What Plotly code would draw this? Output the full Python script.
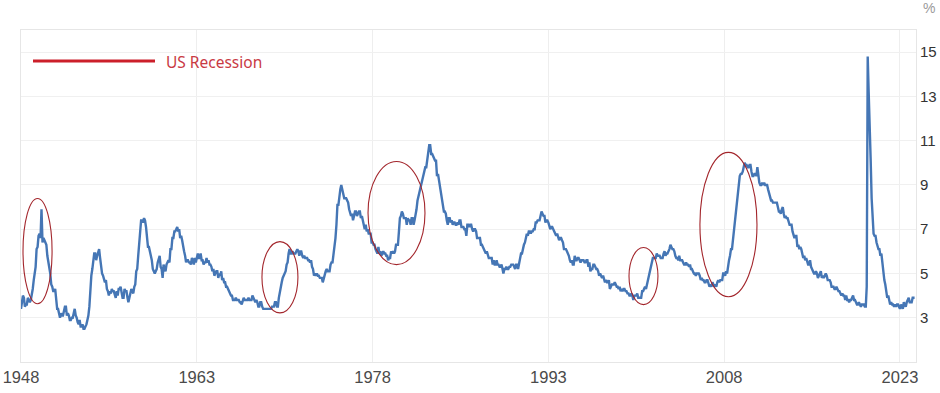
import pandas as pd
import plotly.graph_objects as go
from datetime import datetime, timedelta

# Monthly US unemployment rate (%), Jan 1948 .. Apr 2024
start_month = "1948-01-01"
unemployment_rate = [
    3.4, 3.8, 4.0, 3.9, 3.5, 3.6, 3.6, 3.9, 3.8, 3.7, 3.8, 4.0,   # 1948
    4.3, 4.7, 5.0, 5.3, 6.1, 6.2, 6.7, 6.8, 6.6, 7.9, 6.4, 6.6,   # 1949
    6.5, 6.4, 6.3, 5.8, 5.5, 5.4, 5.0, 4.5, 4.4, 4.2, 4.2, 4.3,   # 1950
    3.7, 3.4, 3.4, 3.1, 3.0, 3.2, 3.1, 3.1, 3.3, 3.5, 3.5, 3.1,   # 1951
    3.2, 3.1, 2.9, 2.9, 3.0, 3.0, 3.2, 3.4, 3.1, 3.0, 2.8, 2.7,   # 1952
    2.9, 2.6, 2.6, 2.7, 2.5, 2.5, 2.6, 2.7, 2.9, 3.1, 3.5, 4.5,   # 1953
    4.9, 5.2, 5.7, 5.9, 5.9, 5.6, 5.8, 6.0, 6.1, 5.7, 5.3, 5.0,   # 1954
    4.9, 4.7, 4.6, 4.7, 4.3, 4.2, 4.0, 4.2, 4.1, 4.3, 4.2, 4.2,   # 1955
    4.0, 3.9, 4.2, 4.0, 4.3, 4.3, 4.4, 4.1, 3.9, 3.9, 4.3, 4.2,   # 1956
    4.2, 3.9, 3.7, 3.9, 4.1, 4.3, 4.2, 4.1, 4.4, 4.5, 5.1, 5.2,   # 1957
    5.8, 6.4, 6.7, 7.4, 7.4, 7.3, 7.5, 7.4, 7.1, 6.7, 6.2, 6.2,   # 1958
    6.0, 5.9, 5.6, 5.2, 5.1, 5.0, 5.1, 5.2, 5.5, 5.7, 5.8, 5.3,   # 1959
    5.2, 4.8, 5.4, 5.2, 5.1, 5.4, 5.5, 5.6, 5.5, 6.1, 6.1, 6.6,   # 1960
    6.6, 6.9, 6.9, 7.0, 7.1, 6.9, 7.0, 6.6, 6.7, 6.5, 6.1, 6.0,   # 1961
    5.8, 5.5, 5.6, 5.6, 5.5, 5.5, 5.4, 5.7, 5.6, 5.4, 5.7, 5.5,   # 1962
    5.7, 5.9, 5.7, 5.7, 5.9, 5.6, 5.6, 5.4, 5.5, 5.5, 5.7, 5.5,   # 1963
    5.6, 5.4, 5.4, 5.3, 5.1, 5.2, 4.9, 5.0, 5.1, 5.1, 4.8, 5.0,   # 1964
    4.9, 5.1, 4.7, 4.8, 4.6, 4.6, 4.4, 4.4, 4.3, 4.2, 4.1, 4.0,   # 1965
    4.0, 3.8, 3.8, 3.8, 3.9, 3.8, 3.8, 3.8, 3.7, 3.7, 3.6, 3.8,   # 1966
    3.9, 3.8, 3.8, 3.8, 3.8, 3.9, 3.8, 3.8, 3.8, 4.0, 3.9, 3.8,   # 1967
    3.7, 3.8, 3.7, 3.5, 3.5, 3.7, 3.7, 3.5, 3.4, 3.4, 3.4, 3.4,   # 1968
    3.4, 3.4, 3.4, 3.4, 3.4, 3.5, 3.5, 3.5, 3.7, 3.7, 3.5, 3.5,   # 1969
    3.9, 4.2, 4.4, 4.6, 4.8, 4.9, 5.0, 5.1, 5.4, 5.5, 5.9, 6.1,   # 1970
    5.9, 5.9, 6.0, 5.9, 5.9, 5.9, 6.0, 6.1, 6.0, 5.8, 6.0, 6.0,   # 1971
    5.8, 5.7, 5.8, 5.7, 5.7, 5.7, 5.6, 5.6, 5.5, 5.6, 5.3, 5.2,   # 1972
    4.9, 5.0, 4.9, 5.0, 4.9, 4.9, 4.8, 4.8, 4.8, 4.6, 4.8, 4.9,   # 1973
    5.1, 5.2, 5.1, 5.1, 5.1, 5.4, 5.5, 5.5, 5.9, 6.0, 6.6, 7.2,   # 1974
    8.1, 8.1, 8.6, 8.8, 9.0, 8.8, 8.6, 8.4, 8.4, 8.4, 8.3, 8.2,   # 1975
    7.9, 7.7, 7.6, 7.7, 7.4, 7.6, 7.8, 7.8, 7.6, 7.7, 7.8, 7.8,   # 1976
    7.5, 7.6, 7.4, 7.2, 7.0, 7.2, 6.9, 7.0, 6.8, 6.8, 6.8, 6.4,   # 1977
    6.4, 6.3, 6.3, 6.1, 6.0, 5.9, 6.2, 5.9, 6.0, 5.8, 5.9, 6.0,   # 1978
    5.9, 5.9, 5.8, 5.8, 5.6, 5.7, 5.7, 6.0, 5.9, 6.0, 5.9, 6.0,   # 1979
    6.3, 6.3, 6.3, 6.9, 7.5, 7.6, 7.8, 7.7, 7.5, 7.5, 7.5, 7.2,   # 1980
    7.5, 7.4, 7.4, 7.2, 7.5, 7.5, 7.2, 7.4, 7.6, 7.9, 8.3, 8.5,   # 1981
    8.6, 8.9, 9.0, 9.3, 9.4, 9.6, 9.8, 9.8, 10.1, 10.4, 10.8, 10.8,  # 1982
    10.4, 10.4, 10.3, 10.2, 10.1, 10.1, 9.4, 9.5, 9.2, 8.8, 8.5, 8.3,  # 1983
    8.0, 7.8, 7.8, 7.7, 7.4, 7.2, 7.5, 7.5, 7.3, 7.4, 7.2, 7.3,   # 1984
    7.3, 7.2, 7.2, 7.3, 7.2, 7.4, 7.4, 7.1, 7.1, 7.1, 7.0, 7.0,   # 1985
    6.7, 7.2, 7.2, 7.1, 7.2, 7.2, 7.0, 6.9, 7.0, 7.0, 6.9, 6.6,   # 1986
    6.6, 6.6, 6.6, 6.3, 6.3, 6.2, 6.1, 6.0, 5.9, 6.0, 5.8, 5.7,   # 1987
    5.7, 5.7, 5.7, 5.4, 5.6, 5.4, 5.4, 5.6, 5.4, 5.4, 5.3, 5.3,   # 1988
    5.4, 5.2, 5.0, 5.2, 5.2, 5.3, 5.2, 5.2, 5.3, 5.3, 5.4, 5.4,   # 1989
    5.4, 5.3, 5.2, 5.4, 5.4, 5.2, 5.5, 5.7, 5.9, 5.9, 6.2, 6.3,   # 1990
    6.4, 6.6, 6.8, 6.7, 6.9, 6.9, 6.8, 6.9, 6.9, 7.0, 7.0, 7.3,   # 1991
    7.3, 7.4, 7.4, 7.4, 7.6, 7.8, 7.7, 7.6, 7.6, 7.3, 7.4, 7.4,   # 1992
    7.3, 7.1, 7.0, 7.1, 7.1, 7.0, 6.9, 6.8, 6.7, 6.8, 6.6, 6.5,   # 1993
    6.6, 6.6, 6.5, 6.4, 6.1, 6.1, 6.1, 6.0, 5.9, 5.8, 5.6, 5.5,   # 1994
    5.6, 5.4, 5.4, 5.8, 5.6, 5.6, 5.7, 5.7, 5.6, 5.5, 5.6, 5.6,   # 1995
    5.6, 5.5, 5.5, 5.6, 5.6, 5.3, 5.5, 5.1, 5.2, 5.2, 5.4, 5.4,   # 1996
    5.3, 5.2, 5.2, 5.1, 4.9, 5.0, 4.9, 4.8, 4.9, 4.7, 4.6, 4.7,   # 1997
    4.6, 4.6, 4.7, 4.3, 4.4, 4.5, 4.5, 4.5, 4.6, 4.5, 4.4, 4.4,   # 1998
    4.3, 4.4, 4.2, 4.3, 4.2, 4.3, 4.3, 4.2, 4.2, 4.1, 4.1, 4.0,   # 1999
    4.0, 4.1, 4.0, 3.8, 4.0, 4.0, 4.0, 4.1, 3.9, 3.9, 3.9, 3.9,   # 2000
    4.2, 4.2, 4.3, 4.4, 4.3, 4.5, 4.6, 4.9, 5.0, 5.3, 5.5, 5.7,   # 2001
    5.7, 5.7, 5.7, 5.9, 5.8, 5.8, 5.8, 5.7, 5.7, 5.7, 5.9, 6.0,   # 2002
    5.8, 5.9, 5.9, 6.0, 6.1, 6.3, 6.2, 6.1, 6.1, 6.0, 5.8, 5.7,   # 2003
    5.7, 5.6, 5.8, 5.6, 5.6, 5.6, 5.5, 5.4, 5.4, 5.5, 5.4, 5.4,   # 2004
    5.3, 5.4, 5.2, 5.2, 5.1, 5.0, 5.0, 4.9, 5.0, 5.0, 5.0, 4.9,   # 2005
    4.7, 4.8, 4.7, 4.7, 4.6, 4.6, 4.7, 4.7, 4.5, 4.4, 4.5, 4.4,   # 2006
    4.6, 4.5, 4.4, 4.5, 4.4, 4.6, 4.7, 4.6, 4.7, 4.7, 4.7, 5.0,   # 2007
    5.0, 4.9, 5.1, 5.0, 5.4, 5.6, 5.8, 6.1, 6.1, 6.5, 6.8, 7.3,   # 2008
    7.8, 8.3, 8.7, 9.0, 9.4, 9.5, 9.5, 9.6, 9.8, 10.0, 9.9, 9.9,  # 2009
    9.8, 9.8, 9.9, 9.9, 9.6, 9.4, 9.4, 9.5, 9.5, 9.4, 9.8, 9.3,   # 2010
    9.1, 9.0, 9.0, 9.1, 9.0, 9.1, 9.0, 9.0, 9.0, 8.8, 8.6, 8.5,   # 2011
    8.3, 8.3, 8.2, 8.2, 8.2, 8.2, 8.2, 8.0, 7.8, 7.8, 7.7, 7.9,   # 2012
    8.0, 7.7, 7.5, 7.6, 7.5, 7.5, 7.3, 7.2, 7.2, 7.2, 6.9, 6.7,   # 2013
    6.6, 6.7, 6.7, 6.2, 6.3, 6.1, 6.2, 6.1, 5.9, 5.7, 5.8, 5.6,   # 2014
    5.7, 5.5, 5.4, 5.4, 5.6, 5.3, 5.2, 5.1, 5.0, 5.0, 5.1, 5.0,   # 2015
    4.8, 4.9, 5.0, 5.1, 4.8, 4.9, 4.8, 4.9, 5.0, 4.9, 4.7, 4.7,   # 2016
    4.7, 4.6, 4.4, 4.4, 4.4, 4.3, 4.3, 4.4, 4.3, 4.2, 4.2, 4.1,   # 2017
    4.0, 4.1, 4.0, 4.0, 3.8, 4.0, 3.8, 3.8, 3.7, 3.8, 3.8, 3.9,   # 2018
    4.0, 3.8, 3.8, 3.7, 3.6, 3.6, 3.7, 3.6, 3.5, 3.6, 3.6, 3.6,   # 2019
    3.5, 3.5, 4.4, 14.8, 13.2, 11.0, 10.2, 8.4, 7.8, 6.8, 6.7, 6.7,  # 2020
    6.4, 6.2, 6.1, 6.1, 5.8, 5.9, 5.4, 5.1, 4.7, 4.5, 4.2, 3.9,   # 2021
    4.0, 3.8, 3.6, 3.7, 3.6, 3.6, 3.5, 3.6, 3.5, 3.6, 3.6, 3.5,   # 2022
    3.4, 3.6, 3.5, 3.4, 3.7, 3.6, 3.5, 3.7, 3.8, 3.9, 3.7, 3.7,   # 2023
    3.7, 3.9, 3.9, 3.9,                                           # 2024
]

x_tick_years = [1948, 1963, 1978, 1993, 2008, 2023]
y_tick_values = [3, 5, 7, 9, 11, 13, 15]

# Highlighted recession episodes: (start year, end year, low %, high %)
recession_marks_years = [
    (1948.17, 1950.65, 3.63, 8.39),
    (1968.56, 1971.63, 3.22, 6.44),
    (1977.61, 1982.47, 5.40, 10.06),
    (1999.88, 2002.35, 3.59, 6.17),
    (2005.93, 2010.80, 3.95, 10.47),
]

legend_label = "US Recession"


def year_to_date(y):
    yr = int(y)
    frac = y - yr
    d0 = datetime(yr, 1, 1)
    d1 = datetime(yr + 1, 1, 1)
    return (d0 + timedelta(seconds=(d1 - d0).total_seconds() * frac)).strftime("%Y-%m-%d %H:%M")


dates = pd.date_range(start_month, periods=len(unemployment_rate), freq="MS")

PL, PR, PT, PB = 21, 24, 30, 31
PW, PH = 940 - PL - PR, 393 - PT - PB

fig = go.Figure()
fig.add_trace(go.Scatter(
    x=dates, y=unemployment_rate, mode="lines",
    line=dict(color="#4576b5", width=2.4),
    hoverinfo="x+y", showlegend=False,
))

shapes = []
for (xa, xb, ya, yb) in recession_marks_years:
    shapes.append(dict(
        type="circle", xref="x", yref="y",
        x0=year_to_date(xa), x1=year_to_date(xb), y0=ya, y1=yb,
        line=dict(color="#a3262c", width=1.1),
    ))
# legend line
shapes.append(dict(
    type="line", xref="paper", yref="paper",
    x0=(33 - PL) / PW, x1=(155 - PL) / PW,
    y0=(393 - PB - 61) / PH, y1=(393 - PB - 61) / PH,
    line=dict(color="#cc1f2a", width=3),
))

fig.update_layout(
    width=940, height=393,
    margin=dict(l=PL, r=PR, t=PT, b=PB, autoexpand=False),
    paper_bgcolor="white", plot_bgcolor="white",
    shapes=shapes,
    showlegend=False,
    annotations=[
        dict(text=legend_label, xref="paper", yref="paper",
             x=(164 - PL) / PW, y=(393 - PB - 62) / PH, xanchor="left", yanchor="middle",
             showarrow=False, font=dict(family="Noto Sans, Open Sans, sans-serif", size=15.5, color="#c93a44")),
        dict(text="%", xref="paper", yref="paper", x=1.0, y=1.0, xanchor="left", yanchor="bottom",
             xshift=5, yshift=12, showarrow=False,
             font=dict(family="Liberation Sans, Arial, sans-serif", size=14, color="#9a9a9a")),
    ],
)

fig.update_xaxes(
    type="date", automargin=False,
    range=["1948-01-01", "2024-05-15"],
    tickvals=[f"{y}-01-01" for y in x_tick_years],
    ticktext=[str(y) for y in x_tick_years],
    showgrid=True, gridcolor="#eeeeee", gridwidth=1,
    showline=True, linecolor="#e6e6e6", linewidth=1, mirror=True,
    ticks="", zeroline=False,
    tickfont=dict(family="Liberation Sans, Arial, sans-serif", size=16.5, color="#4a4a4a"),
)
fig.update_yaxes(
    side="right", automargin=False,
    range=[1, 16],
    tickvals=y_tick_values,
    ticktext=[str(v) for v in y_tick_values],
    showgrid=True, gridcolor="#f0f0f0", gridwidth=1,
    showline=True, linecolor="#e6e6e6", linewidth=1, mirror=True,
    ticks="", zeroline=False,
    tickfont=dict(family="Liberation Sans, Arial, sans-serif", size=15, color="#333333"),
)

fig.write_html("out.html")
